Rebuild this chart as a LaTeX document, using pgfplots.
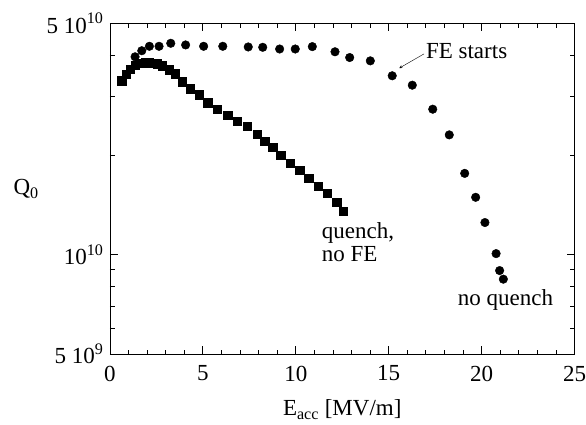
\documentclass[border=0pt]{standalone}
\usepackage{fontspec}
\setmainfont{Liberation Serif}
\usepackage{pgfplots}
\pgfplotsset{compat=1.18}

% no quench (circles)
\pgfplotstableread{
x y
1.35 3.96e10
1.71 4.13e10
2.12 4.26e10
2.64 4.26e10
3.27 4.35e10
4.07 4.30e10
5.04 4.26e10
6.07 4.26e10
7.44 4.24e10
8.22 4.23e10
9.13 4.18e10
9.97 4.18e10
10.89 4.25e10
12.11 4.10e10
12.90 3.94e10
14.01 3.85e10
15.19 3.47e10
16.27 3.25e10
17.37 2.75e10
18.26 2.30e10
19.09 1.76e10
19.68 1.49e10
20.18 1.25e10
20.78 1.007e10
20.97 8.95e9
21.17 8.43e9
}\noquench

% quench, no FE (squares)
\pgfplotstableread{
x y
0.63 3.35e10
0.86 3.51e10
1.10 3.63e10
1.35 3.74e10
1.59 3.78e10
1.88 3.80e10
2.11 3.80e10
2.53 3.77e10
2.81 3.72e10
3.19 3.62e10
3.52 3.52e10
3.90 3.33e10
4.33 3.17e10
4.80 3.04e10
5.26 2.88e10
5.78 2.75e10
6.34 2.64e10
6.85 2.53e10
7.37 2.44e10
7.91 2.31e10
8.32 2.20e10
8.75 2.11e10
9.19 2.00e10
9.69 1.89e10
10.20 1.80e10
10.69 1.70e10
11.21 1.61e10
11.70 1.53e10
12.21 1.44e10
12.54 1.35e10
}\quench

\begin{document}
\begin{tikzpicture}[font=\fontsize{23}{27}\selectfont]
\path[use as bounding box] (-110pt,-70.7pt) rectangle (476pt,354.3pt);
\begin{axis}[
    at={(0,0)}, anchor=south west,
    scale only axis,
    width=464.5pt, height=331pt,
    xmin=0, xmax=25,
    ymode=log, ymin=5e9, ymax=5e10,
    xtick={0,5,...,25},
    minor xtick={1,2,3,4,6,7,8,9,11,12,13,14,16,17,18,19,21,22,23,24},
    ytick={5e9,1e10,5e10},
    yticklabels={5 10\textsuperscript{9}, 10\textsuperscript{10}, 5 10\textsuperscript{10}},
    minor ytick={6e9,7e9,8e9,9e9,2e10,3e10,4e10},
    major tick length=8pt, minor tick length=4.5pt,
    tick style={black, line width=0.8pt},
    axis line style={line width=0.8pt},
    /pgf/number format/assume math mode=true,
    tick label style={font=\fontsize{23}{27}\selectfont},
    xticklabel style={yshift=-8pt},
    yticklabel style={xshift=-3pt},
    xlabel={E\textsubscript{acc} [MV/m]},
    ylabel={Q\textsubscript{0}},
    every axis x label/.style={at={(rel axis cs:0.5,0)}, anchor=base, yshift=-61.7pt},
    every axis y label/.style={at={(rel axis cs:0,0.5)}, anchor=west, xshift=-100pt},
    clip=false,
]
\addplot[only marks, mark=*, mark size=4.3pt, black] table[x=x, y=y] {\noquench};
\addplot[only marks, mark=square*, mark size=4.2pt, black] table[x=x, y=y] {\quench};
\draw[->, >=stealth, thin] (axis cs:16.9,4.04e10) -- (axis cs:15.57,3.66e10);
\node[anchor=base west, inner sep=0pt] at (axis cs:17.0,3.92e10) {FE starts};
\node[anchor=base west, inner sep=0pt] at (axis cs:11.39,1.121e10) {quench,};
\node[anchor=base west, inner sep=0pt] at (axis cs:11.39,9.52e9) {no FE};
\node[anchor=base west, inner sep=0pt] at (axis cs:18.71,7.0e9) {no quench};
\end{axis}
\end{tikzpicture}
\end{document}
